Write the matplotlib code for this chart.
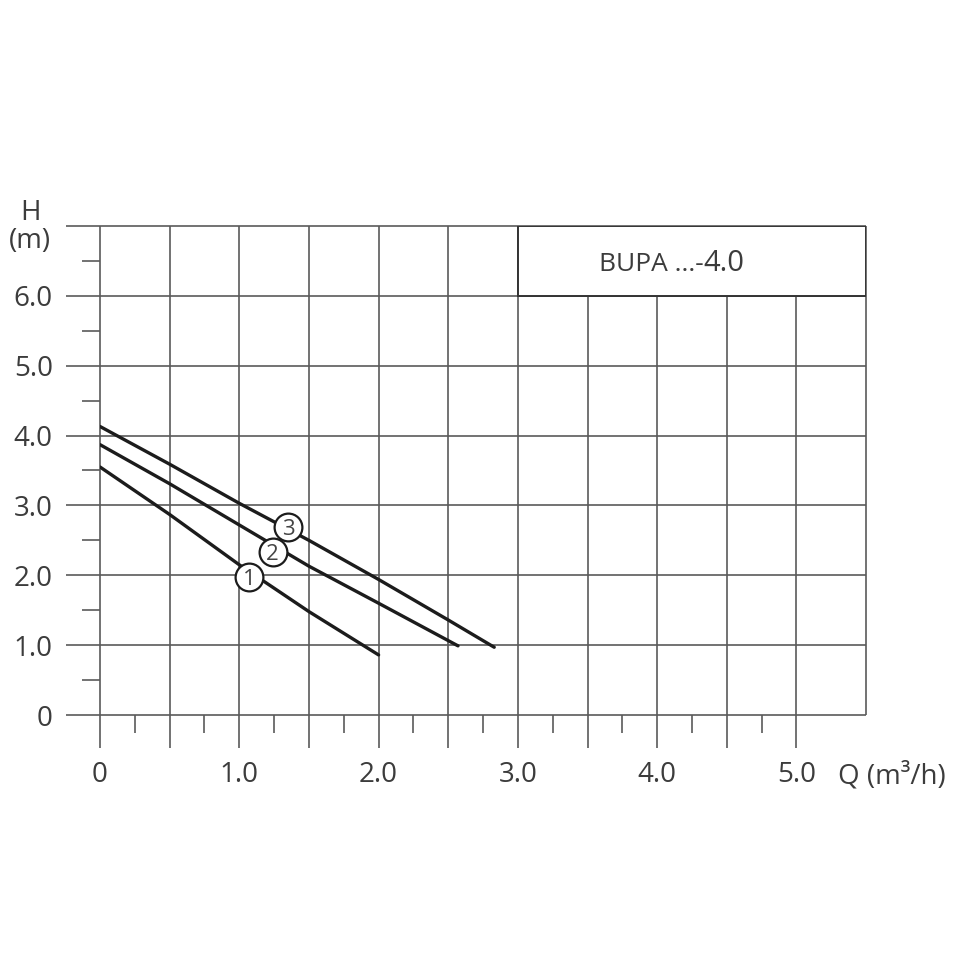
import numpy as np
import matplotlib.pyplot as plt
from matplotlib.patches import Rectangle

plt.rcParams['font.family'] = ['Open Sans', 'DejaVu Sans']

# pump curves (Q in m3/h, H in m)
q1 = [0.0, 0.5, 1.0, 1.5, 2.0]
h1 = [3.55, 2.87, 2.15, 1.48, 0.86]
q2 = [0.0, 0.5, 1.0, 1.5, 2.0, 2.57]
h2 = [3.87, 3.31, 2.72, 2.13, 1.60, 0.99]
q3 = [0.0, 0.5, 1.0, 1.5, 2.0, 2.5, 2.83]
h3 = [4.13, 3.59, 3.03, 2.50, 1.94, 1.36, 0.97]

speed_labels = ['1', '2', '3']
label_q = [1.07, 1.24, 1.35]
label_h = [1.98, 2.34, 2.69]

xticks = [0, 1, 2, 3, 4, 5]
xtick_labels = ['0', '1.0', '2.0', '3.0', '4.0', '5.0']
yticks = [0, 1, 2, 3, 4, 5, 6]
ytick_labels = ['0', '1.0', '2.0', '3.0', '4.0', '5.0', '6.0']
title = 'BUPA ...-'
title_num = '4.0'

txt = '#3c3c3c'
grid = '#5a5a5a'
ink = '#1c1c1c'

fig = plt.figure(figsize=(9.6, 9.6), dpi=100)
ax = fig.add_axes([0.1042, 0.2552, 0.798, 0.5094])
ax.set_xlim(0, 5.5)
ax.set_ylim(0, 7)
for s in ax.spines.values():
    s.set_visible(False)

# grid: verticals every 0.5 running below the axis, horizontals every 1.0 running left
ax.vlines(np.arange(0, 5.01, 0.5), -0.47, 7, color=grid, lw=1.2, clip_on=False, zorder=1)
ax.vlines([5.5], 0, 7, color=grid, lw=1.2, clip_on=False, zorder=1)
ax.hlines(np.arange(0, 7.01, 1), -0.245, 5.5, color=grid, lw=1.2, clip_on=False, zorder=1)
# minor ticks
ax.vlines(np.arange(0.25, 4.8, 0.5), -0.26, 0, color=grid, lw=1.2, clip_on=False, zorder=1)
ax.hlines(np.arange(0.5, 6.6, 1), -0.13, 0, color=grid, lw=1.2, clip_on=False, zorder=1)

ax.set_xticks(xticks, xtick_labels)
ax.set_yticks(yticks, ytick_labels)
ax.tick_params(axis='x', length=0, pad=33, labelsize=20, labelcolor=txt)
ax.tick_params(axis='y', length=0, pad=34, labelsize=20, labelcolor=txt)

ax.text(-0.5, 7.19, 'H', ha='center', va='center', fontsize=20, color=txt)
ax.text(-0.5, 6.79, '(m)', ha='center', va='center', fontsize=20, color=txt)
ax.text(5.3, -0.873, 'Q (m³/h)', ha='left', va='center', fontsize=20, color=txt)

# model box in the top right corner
ax.add_patch(Rectangle((3.0, 6.0), 2.5, 1.0, fc='white', ec='#333333', lw=1.4, zorder=3))
ax.text(4.33, 6.36, title, ha='right', va='baseline', fontsize=19, color=txt, zorder=4)
ax.text(4.33, 6.36, title_num, ha='left', va='baseline', fontsize=21, color=txt, zorder=4)

for q, h in [(q1, h1), (q2, h2), (q3, h3)]:
    ax.plot(q, h, color=ink, lw=2.4, solid_capstyle='round', zorder=5)

ax.scatter(label_q, label_h, s=400, facecolor='white', edgecolor=ink, linewidth=1.6, zorder=6)
for lab, q, h in zip(speed_labels, label_q, label_h):
    ax.text(q, h, lab, ha='center', va='center_baseline', fontsize=16, color='#444444', zorder=7)

fig.savefig('out.png', dpi=100, facecolor='white')
